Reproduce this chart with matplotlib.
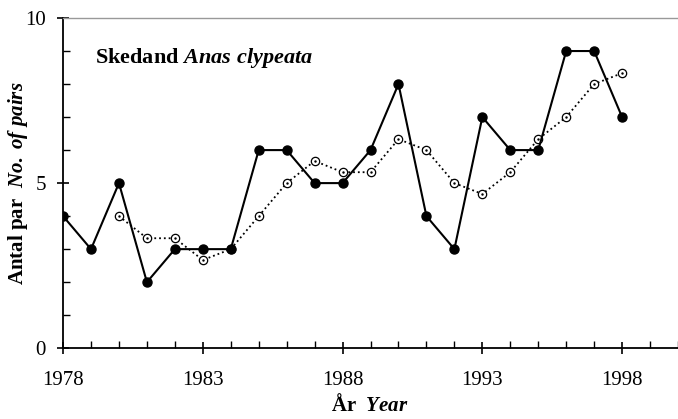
import matplotlib.pyplot as plt
from matplotlib.ticker import MultipleLocator

# Data
years = list(range(1978, 1999))
pairs = [4, 3, 5, 2, 3, 3, 3, 6, 6, 5, 5, 6, 8, 4, 3, 7, 6, 6, 9, 9, 7]

avg_years = list(range(1980, 1999))
avg_pairs = [4.0, 3.33, 3.33, 2.67, 3.0, 4.0, 5.0, 5.67, 5.33, 5.33,
             6.33, 6.0, 5.0, 4.67, 5.33, 6.33, 7.0, 8.0, 8.33]

xticks = [1978, 1983, 1988, 1993, 1998]
yticks = [0, 5, 10]

plt.rcParams['font.family'] = 'Liberation Serif'
plt.rcParams['mathtext.fontset'] = 'custom'
plt.rcParams['mathtext.bf'] = 'Liberation Serif:bold'
plt.rcParams['mathtext.it'] = 'Liberation Serif:italic:bold'
plt.rcParams['mathtext.rm'] = 'Liberation Serif:bold'

fig = plt.figure(figsize=(6.78, 4.19), dpi=100)
ax = fig.add_axes([0.093, 0.169, 0.907, 0.788])

ax.plot(avg_years, avg_pairs, linestyle=':', color='black', lw=1.3,
        marker='o', markersize=6, markerfacecolor='white',
        markeredgecolor='black', markeredgewidth=0.9, zorder=2)
ax.plot(avg_years, avg_pairs, linestyle='none', marker='.', markersize=1.5,
        color='black', zorder=2)
ax.plot(years, pairs, linestyle='-', color='black', lw=1.5,
        marker='o', markersize=6.5, zorder=3)

ax.set_xlim(1978, 2000)
ax.set_ylim(0, 10)
ax.set_xticks(xticks)
ax.set_yticks(yticks)
ax.xaxis.set_minor_locator(MultipleLocator(1))
ax.yaxis.set_minor_locator(MultipleLocator(1))
ax.tick_params(which='major', direction='inout', length=9, width=1.2,
               labelsize=15, pad=8)
ax.tick_params(axis='x', which='major', pad=12)
ax.tick_params(which='minor', direction='in', length=5, width=1)

ax.spines['right'].set_visible(False)
ax.spines['top'].set_color('#999999')
ax.spines['top'].set_linewidth(1)
ax.spines['left'].set_linewidth(1.3)
ax.spines['bottom'].set_linewidth(1.3)

ax.text(0.052, 0.865, r'$\mathbf{Skedand}$ $\mathit{Anas\ clypeata}$',
        transform=ax.transAxes, fontsize=16, va='baseline')

fig.text(0.026, 0.563, r'$\mathbf{Antal\ par}$  $\mathit{No.\ of\ pairs}$',
         rotation=90, ha='center', va='center', fontsize=15)
fig.text(0.546, 0.033, r'$\mathbf{\AA r}$  $\mathit{Year}$',
         ha='center', va='center', fontsize=15)

fig.savefig('out.png', dpi=100)
